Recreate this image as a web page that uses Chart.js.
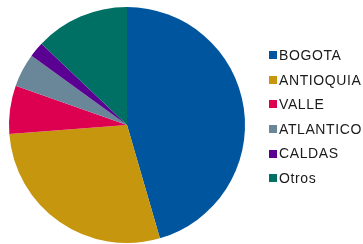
<!DOCTYPE html>
<html>
<head>
<meta charset="utf-8">
<script src="https://cdn.jsdelivr.net/npm/chart.js@4/dist/chart.umd.min.js"></script>
<style>
  html, body { margin: 0; padding: 0; background: #fff; }
  #wrap { position: relative; width: 363px; height: 244px; }
  #ChartPie { position: absolute; left: 0; top: 0; }
  .pie-legend {
    position: absolute;
    left: 269px;
    top: 43px;
    margin: 0;
    padding: 0;
    list-style: none;
    font-family: "Liberation Sans", Arial, sans-serif;
    font-size: 14px;
    letter-spacing: 0.6px;
    color: #1a1a1a;
  }
  .pie-legend li {
    display: flex;
    align-items: center;
    height: 24.6px;
    line-height: 24.6px;
    white-space: nowrap;
  }
  .pie-legend .box {
    display: inline-block;
    width: 8px;
    height: 8px;
    margin-right: 2px;
  }
</style>
</head>
<body>
<div id="wrap">
  <canvas id="ChartPie" width="363" height="244"></canvas>
  <ul class="pie-legend"></ul>
</div>
<script>
const labels = ["BOGOTA", "ANTIOQUIA", "VALLE", "ATLANTICO", "CALDAS", "Otros"];
const values = [45.5, 28.3, 6.6, 4.6, 2.1, 12.9];
const colors = ["#00559f", "#c6960e", "#de0050", "#6a8799", "#5a0092", "#007064"];

const ctx = document.getElementById("ChartPie").getContext("2d");
// pie on the left, legend drawn as html on the right
new Chart(ctx, {
  type: "pie",
  data: {
    labels: labels,
    datasets: [
      {
        data: values,
        backgroundColor: colors,
        borderWidth: 0,
      },
    ],
  },
  options: {
    responsive: false,
    animation: false,
    layout: {
      padding: { left: 9, top: 7, bottom: 1, right: 118 },
    },
    plugins: {
      tooltip: { enabled: false },
      legend: { display: false },
    },
  },
});

const ulEl = document.querySelector(".pie-legend");
for (let i = 0; i < labels.length; i++) {
  const liEl = document.createElement("li");
  const boxEl = document.createElement("span");
  const nameEl = document.createElement("span");
  boxEl.classList.add("box");
  boxEl.style.background = colors[i];
  nameEl.innerText = labels[i];
  liEl.appendChild(boxEl);
  liEl.appendChild(nameEl);
  ulEl.appendChild(liEl);
}
</script>
</body>
</html>
